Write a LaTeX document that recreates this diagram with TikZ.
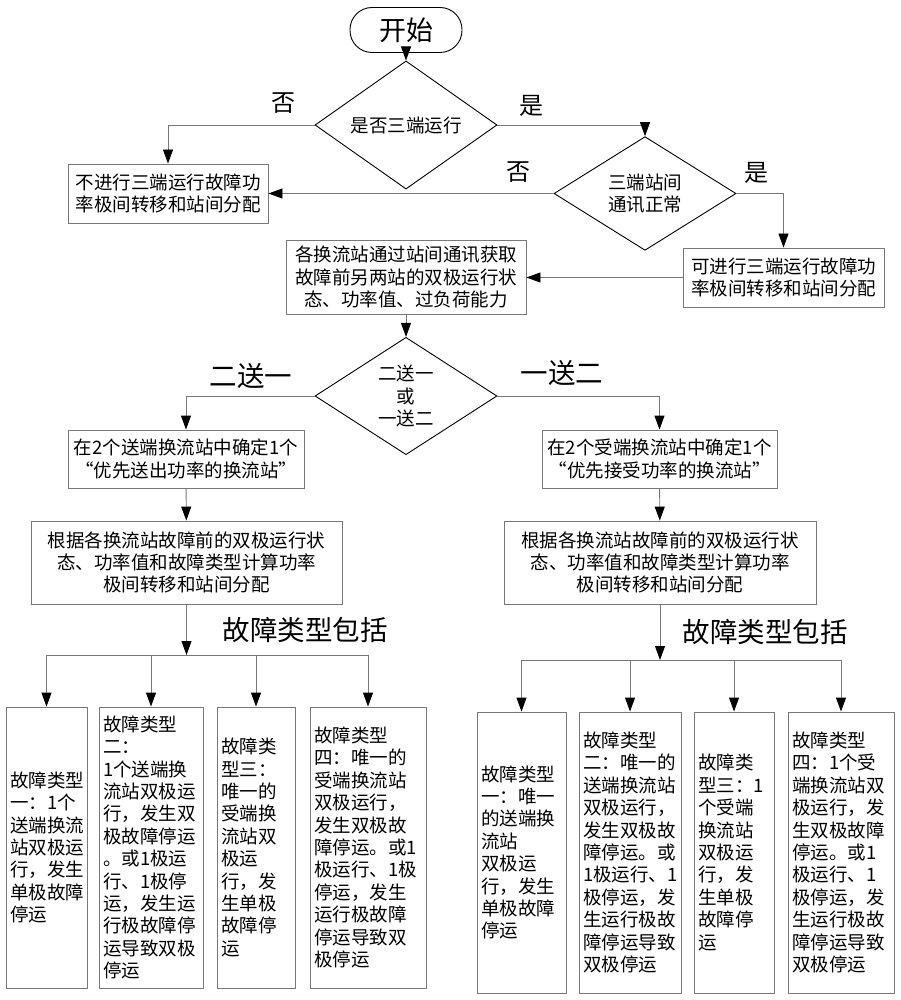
\documentclass[tikz,border=0pt]{standalone}
\usepackage{fontspec}
\usepackage{tikz}
\usetikzlibrary{shapes.geometric, positioning, calc, arrows.meta}
\newfontfamily\cjk{Noto Sans CJK SC}
\definecolor{linegray}{RGB}{120,120,120}

\tikzset{
  every node/.style={font=\cjk\fontsize{18.5}{22.4}\selectfont},
  startbox/.style={draw=black, line width=0.9pt, rounded corners=22pt, minimum width=112pt, minimum height=45pt, font=\cjk\fontsize{27}{30}\selectfont},
  procbox/.style={draw=linegray, line width=0.9pt, align=center, inner sep=0pt},
  decision/.style={draw=black, line width=0.9pt, diamond, align=center, inner sep=0pt},
  faultbox/.style={draw=linegray, line width=0.9pt, align=left, inner xsep=4pt, inner ysep=0pt, minimum height=281pt},
  conn/.style={draw=linegray, line width=0.9pt, -{Triangle[length=14pt,width=10pt,color=black]}},
  tag/.style={font=\cjk\fontsize{24}{26}\selectfont},
  bigtag/.style={font=\cjk\fontsize{27.5}{30}\selectfont},
}

\begin{document}
\begin{tikzpicture}[x=1pt, y=-1pt]
  \useasboundingbox (0,0) rectangle (901,1000);

  % upper part
  \node[startbox] (start) at (406,30) {开始};
  \node[decision, minimum width=182pt, minimum height=76pt] (three) at (406,125) {是否三端运行};
  \node[procbox, minimum width=200pt, minimum height=59pt] (notrans) at (168,193.5) {不进行三端运行故障功\\率极间转移和站间分配};
  \node[decision, minimum width=182pt, minimum height=77pt] (comm) at (645,193.5) {三端站间\\通讯正常};
  \node[procbox, minimum width=201pt, minimum height=59pt] (cantrans) at (783.5,277.5) {可进行三端运行故障功\\率极间转移和站间分配};
  \node[procbox, minimum width=240pt, minimum height=74pt] (info) at (406,277) {各换流站通过站间通讯获取\\故障前另两站的双极运行状\\态、功率值、过负荷能力};
  \node[decision, minimum width=182pt, minimum height=98pt] (mode) at (406,396) {二送一\\或\\一送二};

  \node[tag] (no1) at (283,103) {否};
  \node[tag] (yes1) at (531,106) {是};
  \node[tag] (no2) at (518,172) {否};
  \node[tag] (yes2) at (756,173) {是};
  \node[bigtag] (twoone) at (251,376) {二送一};
  \node[bigtag] (onetwo) at (562,373) {一送二};

  % two branches
  \node[procbox, minimum width=236pt, minimum height=58pt] (sendsel) at (186,459) {在2个送端换流站中确定1个\\“优先送出功率的换流站”};
  \node[procbox, minimum width=235pt, minimum height=58pt] (recvsel) at (659.5,459) {在2个受端换流站中确定1个\\“优先接受功率的换流站”};
  \node[procbox, minimum width=311pt, minimum height=83pt] (leftcalc) at (186.5,562.5) {根据各换流站故障前的双极运行状\\态、功率值和故障类型计算功率\\极间转移和站间分配};
  \node[procbox, minimum width=312pt, minimum height=83pt] (rightcalc) at (660,562.5) {根据各换流站故障前的双极运行状\\态、功率值和故障类型计算功率\\极间转移和站间分配};
  \node[bigtag] (lfaults) at (305,630) {故障类型包括};
  \node[bigtag] (rfaults) at (765,632) {故障类型包括};

  % fault types, left
  \node[faultbox, text width=73pt] (l1) at (46.5,847.5) {故障类型\\一：1个\\送端换流\\站双极运\\行，发生\\单极故障\\停运};
  \node[faultbox, text width=96pt] (l2) at (151,847.5) {故障类型\\二：\\1个送端换\\流站双极运\\行，发生双\\极故障停运\\。或1极运\\行、1极停\\运，发生运\\行极故障停\\运导致双极\\停运};
  \node[faultbox, text width=70pt] (l3) at (256,847.5) {故障类\\型三：\\唯一的\\受端换\\流站双\\极运\\行，发\\生单极\\故障停\\运};
  \node[faultbox, text width=108pt] (l4) at (368,847.5) {故障类型\\四：唯一的\\受端换流站\\双极运行，\\发生双极故\\障停运。或1\\极运行、1极\\停运，发生\\运行极故障\\停运导致双\\极停运};

  % fault types, right
  \node[faultbox, text width=81pt] (r1) at (521.5,852.5) {故障类型\\一：唯一\\的送端换\\流站\\双极运\\行，发生\\单极故障\\停运};
  \node[faultbox, text width=94pt] (r2) at (630,852.5) {故障类型\\二：唯一的\\送端换流站\\双极运行，\\发生双极故\\障停运。或\\1极运行、1\\极停运，发\\生运行极故\\障停运导致\\双极停运};
  \node[faultbox, text width=72pt] (r3) at (734,852.5) {故障类\\型三：1\\个受端\\换流站\\双极运\\行，发\\生单极\\故障停\\运};
  \node[faultbox, text width=98pt] (r4) at (841,852.5) {故障类型\\四：1个受\\端换流站双\\极运行，发\\生双极故障\\停运。或1\\极运行、1\\极停运，发\\生运行极故\\障停运导致\\双极停运};

  \coordinate (lbar) at (186.5,655);
  \coordinate (rbar) at (660,660);

  % connectors
  \draw[conn] (start) -- (three);
  \draw[conn] (three.west) -| (notrans.north);
  \draw[conn] (three.east) -| (comm.north);
  \draw[conn] (comm.west) -- (comm.west -| notrans.east);
  \draw[conn] (comm.east) -| (cantrans.north);
  \draw[conn] (cantrans.west) -- (cantrans.west -| info.east);
  \draw[conn] (info) -- (mode);
  \draw[conn] (mode.west) -| (sendsel.north);
  \draw[conn] (mode.east) -| (recvsel.north);
  \draw[conn] (sendsel) -- (leftcalc);
  \draw[conn] (recvsel) -- (rightcalc);
  \draw[conn] (leftcalc.south) -- (lbar);
  \draw[conn] (rightcalc.south) -- (rbar);
  \draw[linegray, line width=0.9pt] (l1.north |- lbar) -- (l4.north |- lbar);
  \draw[linegray, line width=0.9pt] (r1.north |- rbar) -- (r4.north |- rbar);
  \foreach \n in {l1,l2,l3,l4}
    \draw[conn] (lbar -| \n.north) -- (\n.north);
  \foreach \n in {r1,r2,r3,r4}
    \draw[conn] (rbar -| \n.north) -- (\n.north);
\end{tikzpicture}
\end{document}
